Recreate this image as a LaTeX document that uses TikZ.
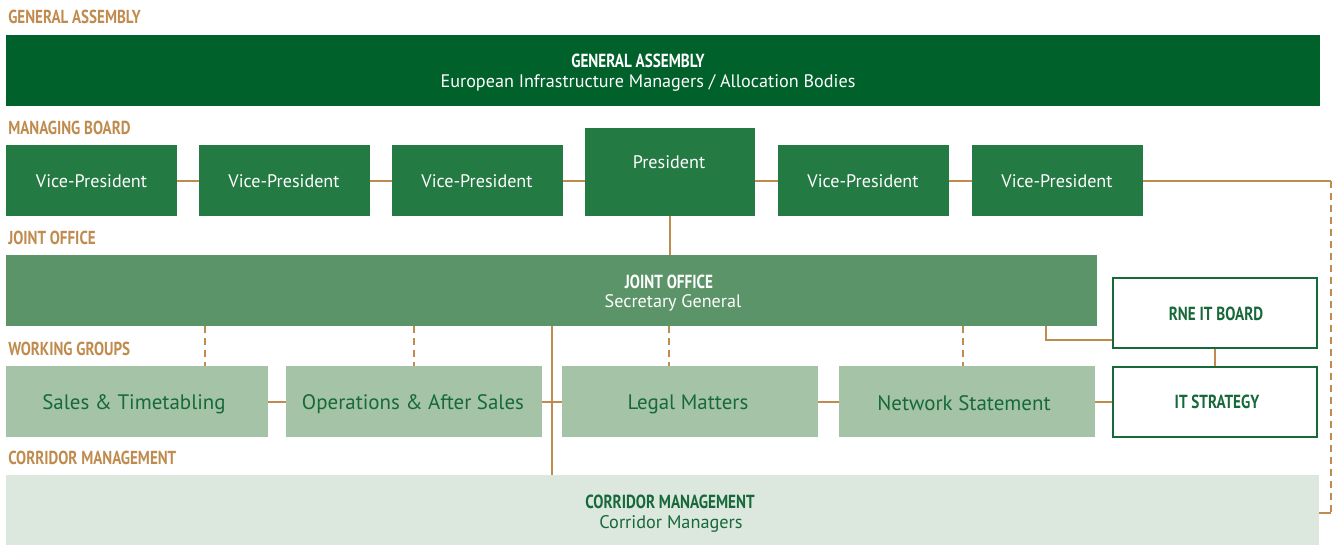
\documentclass[tikz,border=0pt]{standalone}
\usepackage{fontspec}
\setmainfont{PT Sans}
\newfontfamily\cond[FakeStretch=0.8]{PT Sans}
\definecolor{tan}{HTML}{BF8B4E}
\definecolor{gadark}{HTML}{00612A}
\definecolor{vpgreen}{HTML}{247A43}
\definecolor{jogreen}{HTML}{5B9468}
\definecolor{wggreen}{HTML}{A4C3A7}
\definecolor{cmgreen}{HTML}{DCE7DE}
\definecolor{txtgreen}{HTML}{17693A}
\begin{document}
\begin{tikzpicture}[x=0.75pt,y=-0.75pt,
  box/.style={rectangle,inner sep=0pt,draw=none},
  lbl/.style={anchor=west,inner sep=0pt,text=tan,font=\cond\bfseries\fontsize{14.1}{14}\selectfont},
  wtxt/.style={inner sep=0pt,text=white,font=\fontsize{13.6}{14}\selectfont},
  wbold/.style={inner sep=0pt,text=white,font=\cond\bfseries\fontsize{14.2}{14}\selectfont},
  gtxt/.style={inner sep=0pt,text=txtgreen,font=\fontsize{15.7}{17}\selectfont},
  gbold/.style={inner sep=0pt,text=txtgreen,font=\cond\bfseries\fontsize{14.2}{14}\selectfont},
  conn/.style={draw=tan,line width=1.5pt},
  dconn/.style={draw=tan,line width=1.5pt,dash pattern=on 5pt off 4pt}]
\useasboundingbox (0,0) rectangle (1338,546);
% section labels
\node[lbl] (l1) at (8,17) {GENERAL ASSEMBLY};
\node[lbl] (l2) at (8,128) {MANAGING BOARD};
\node[lbl] (l3) at (8,238) {JOINT OFFICE};
\node[lbl] (l4) at (8,349) {WORKING GROUPS};
\node[lbl] (l5) at (8,458) {CORRIDOR MANAGEMENT};
% connectors first (behind boxes)
\coordinate (rt) at (1331,181);
\coordinate (rb) at (1331,513);
\coordinate (jx) at (1046,340);
\draw[conn] (91.5,181) -- (1142,181) -- (rt);
\draw[dconn] (rt) -- (rb);
\draw[conn] (rb) -- (1319,513);
\draw[conn] (670,216) -- (670,255);
\draw[conn] (1046,326) -- (jx) -- (1112,340);
\draw[conn] (1215,349) -- (1215,366);
\draw[conn] (137,402) -- (1112,402);
\draw[conn] (552,326) -- (552,475);
\foreach \x in {205,414,669,963} \draw[dconn] (\x,326) -- (\x,366);
% general assembly
\node[box,fill=gadark,minimum width=1314*0.75pt,minimum height=71*0.75pt] (ga) at (663,70.5) {};
\node[wbold] (gat1) at (638,61) {GENERAL ASSEMBLY};
\node[wtxt] (gat2) at (648,82.5) {European Infrastructure Managers / Allocation Bodies};
% managing board
\foreach \n/\x in {vp1/91.5,vp2/284,vp3/477,vp4/863,vp5/1057}{
  \node[box,fill=vpgreen,minimum width=171*0.75pt,minimum height=71*0.75pt] (\n) at (\x,180.5) {};
  \node[wtxt] (\n t) at (\x,181.5) {Vice-President};
}
\node[box,fill=vpgreen,minimum width=170*0.75pt,minimum height=88*0.75pt] (pres) at (670,172) {};
\node[wtxt] (prest) at (669,162.5) {President};
% joint office
\node[box,fill=jogreen,minimum width=1091*0.75pt,minimum height=71*0.75pt] (jo) at (551.5,290.5) {};
\node[wbold] (jot1) at (669,282) {JOINT OFFICE};
\node[wtxt] (jot2) at (673,302.5) {Secretary General};
% IT boxes
\node[box,draw=txtgreen,line width=1.5pt,fill=white,minimum width=204*0.75pt,minimum height=70*0.75pt] (rne) at (1215,313) {};
\node[gbold] (rnet) at (1216,314) {RNE IT BOARD};
\node[box,draw=txtgreen,line width=1.5pt,fill=white,minimum width=204*0.75pt,minimum height=70*0.75pt] (its) at (1215,401.5) {};
\node[gbold] (itst) at (1217,402) {IT STRATEGY};
% working groups
\node[box,fill=wggreen,minimum width=262*0.75pt,minimum height=71*0.75pt] (wg1) at (137,401.5) {};
\node[gtxt] (wg1t) at (134,404) {Sales \& Timetabling};
\node[box,fill=wggreen,minimum width=256*0.75pt,minimum height=71*0.75pt] (wg2) at (414,401.5) {};
\node[gtxt] (wg2t) at (413,404) {Operations \& After Sales};
\node[box,fill=wggreen,minimum width=256*0.75pt,minimum height=71*0.75pt] (wg3) at (690,401.5) {};
\node[gtxt] (wg3t) at (688,404) {Legal Matters};
\node[box,fill=wggreen,minimum width=256*0.75pt,minimum height=71*0.75pt] (wg4) at (967,401.5) {};
\node[gtxt] (wg4t) at (964,403) {Network Statement};
% corridor management
\node[box,fill=cmgreen,minimum width=1313*0.75pt,minimum height=70*0.75pt] (cm) at (662.5,510) {};
\node[gbold] (cmt1) at (670,502) {CORRIDOR MANAGEMENT};
\node[inner sep=0pt,text=txtgreen,font=\fontsize{13.7}{14}\selectfont] (cmt2) at (671,523.5) {Corridor Managers};
\end{tikzpicture}
\end{document}
